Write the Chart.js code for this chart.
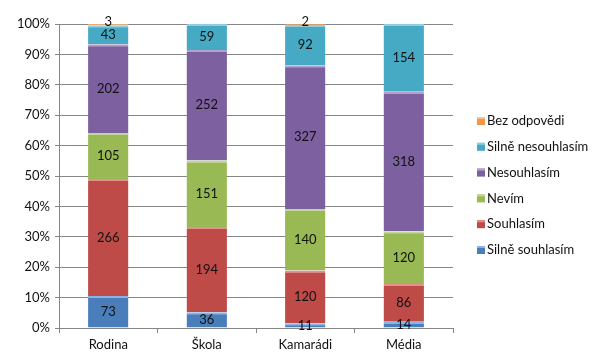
<!DOCTYPE html>
<html>
<head>
<meta charset="utf-8">
<script src="https://cdn.jsdelivr.net/npm/chart.js@4/dist/chart.umd.min.js"></script>
<style>
  html, body { margin: 0; padding: 0; background: #fff; }
  #wrap { width: 606px; height: 360px; }
</style>
</head>
<body>
<div id="wrap"><canvas id="myChart" width="606" height="360"></canvas></div>
<script>
var categories = ['Rodina', 'Škola', 'Kamarádi', 'Média'];
var seriesNames = ['Silně souhlasím', 'Souhlasím', 'Nevím', 'Nesouhlasím', 'Silně nesouhlasím', 'Bez odpovědi'];
var silneSouhlasim = [73, 36, 11, 14];
var souhlasim = [266, 194, 120, 86];
var nevim = [105, 151, 140, 120];
var nesouhlasim = [202, 252, 327, 318];
var silneNesouhlasim = [43, 59, 92, 154];
var bezOdpovedi = [3, 0, 2, 0];
var yTicks = [0, 10, 20, 30, 40, 50, 60, 70, 80, 90, 100];

var counts = [silneSouhlasim, souhlasim, nevim, nesouhlasim, silneNesouhlasim, bezOdpovedi];
var fills = ['#4A7EBB', '#BE4B48', '#98B954', '#7D60A0', '#46AAC5', '#F79646'];
var tops = ['#8DB3E2', '#E6908E', '#C3D69B', '#B3A2C7', '#93CDDD', '#FAC090'];
var FONT = 'Lato, "Open Sans", sans-serif';

// totals per category, to turn counts into shares of 100 %
var totals = categories.map(function (c, j) {
    return counts.reduce(function (s, arr) { return s + arr[j]; }, 0);
});

var datasets = counts.map(function (arr, i) {
    return {
        label: seriesNames[i],
        data: arr.map(function (v, j) { return v / totals[j] * 100; }),
        backgroundColor: fills[i],
        borderColor: tops[i],
        borderWidth: { top: 2, left: 0, right: 0, bottom: 0 },
        borderSkipped: false,
        categoryPercentage: 1,
        barPercentage: 0.41
    };
});

// value labels in the middle of each segment
var valueLabels = {
    id: 'valueLabels',
    afterDatasetsDraw: function (chart) {
        var ctx = chart.ctx;
        ctx.save();
        ctx.font = '13px ' + FONT;
        ctx.fillStyle = '#111';
        ctx.textAlign = 'center';
        ctx.textBaseline = 'middle';
        chart.data.datasets.forEach(function (ds, i) {
            chart.getDatasetMeta(i).data.forEach(function (bar, j) {
                var v = counts[i][j];
                if (!v) return;
                var p = bar.getProps(['x', 'y', 'base'], true);
                var y = (p.y + p.base) / 2;
                if (i === counts.length - 1) y -= 3;
                ctx.fillText(v, p.x, y);
            });
        });
        ctx.restore();
    }
};

// legend on the right, top item = last series
var sideLegend = {
    id: 'sideLegend',
    afterDraw: function (chart) {
        var ctx = chart.ctx;
        ctx.save();
        ctx.font = '13px ' + FONT;
        ctx.textBaseline = 'middle';
        var ds = chart.data.datasets;
        for (var k = 0; k < ds.length; k++) {
            var i = ds.length - 1 - k;
            var y = 121 + k * 25.8;
            ctx.fillStyle = ds[i].backgroundColor;
            ctx.fillRect(477, y - 4, 8, 8);
            ctx.fillStyle = ds[i].borderColor;
            ctx.fillRect(477, y - 4, 8, 2);
            ctx.fillStyle = '#111';
            ctx.fillText(ds[i].label, 487, y);
        }
        ctx.restore();
    }
};

var ctx = document.getElementById('myChart').getContext('2d');
var myChart = new Chart(ctx, {
    type: 'bar',
    data: {
        labels: categories,
        datasets: datasets
    },
    options: {
        responsive: false,
        animation: false,
        layout: {
            padding: { top: 24, right: 153, bottom: 0, left: 0 }
        },
        plugins: {
            legend: { display: false },
            tooltip: { enabled: false }
        },
        scales: {
            x: {
                stacked: true,
                afterFit: function (s) { s.height = 32; },
                grid: {
                    offset: true,
                    drawOnChartArea: false,
                    color: '#868686',
                    tickLength: 5
                },
                border: { color: '#868686' },
                ticks: {
                    color: '#111',
                    padding: 4,
                    font: { family: FONT, size: 13 }
                }
            },
            y: {
                stacked: true,
                min: 0,
                max: 100,
                afterFit: function (s) { s.width = 59; },
                afterBuildTicks: function (s) {
                    s.ticks = yTicks.map(function (v) { return { value: v }; });
                },
                grid: {
                    color: '#868686',
                    tickLength: 4
                },
                border: { color: '#868686' },
                ticks: {
                    color: '#111',
                    padding: 5,
                    font: { family: FONT, size: 13 },
                    callback: function (v) { return v + '%'; }
                }
            }
        }
    },
    plugins: [valueLabels, sideLegend]
});
</script>
</body>
</html>
